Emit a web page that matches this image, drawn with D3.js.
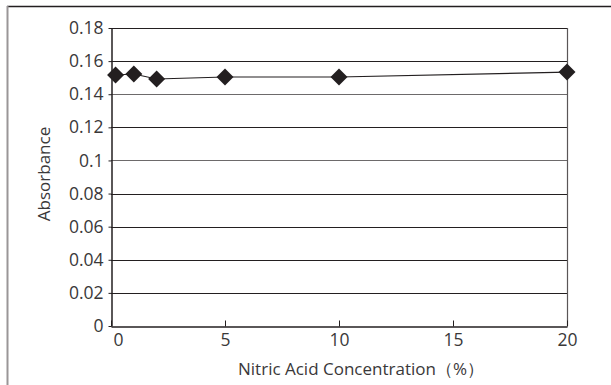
<!DOCTYPE html>
<html><head><meta charset="utf-8">
<script src="https://cdn.jsdelivr.net/npm/d3@7"></script>
<style>body{margin:0;background:#fff;}svg{display:block;}text{font-family:"Open Sans","Noto Sans",sans-serif;font-weight:400;}</style>
</head><body>
<svg id="c" width="611" height="385"></svg>
<script>
const concentration = [0.2, 1, 2, 5, 10, 20];
const absorbance = [0.1516, 0.1522, 0.1492, 0.1504, 0.1504, 0.1534];
const xTicks = [0, 5, 10, 15, 20];
const yTicks = [0, 0.02, 0.04, 0.06, 0.08, 0.1, 0.12, 0.14, 0.16, 0.18];
const xTitle = "Nitric Acid Concentration（%）";
const yTitle = "Absorbance";

const svg = d3.select("#c");
const L = 111, R = 567, T = 28, B = 326;
const x = d3.scaleLinear().domain([0, 20]).range([L, R]);
const y = d3.scaleLinear().domain([0, 0.18]).range([B, T]);
const ink = "#231f20";
const txt = "#3a3839";

// outer frame
svg.append("line").attr("x1", 7).attr("x2", 611).attr("y1", 6.5).attr("y2", 6.5).attr("stroke", ink).attr("stroke-width", 1.5);
svg.append("line").attr("x1", 7.5).attr("x2", 7.5).attr("y1", 6).attr("y2", 385).attr("stroke", "#9a9697").attr("stroke-width", 2);

// gridlines
svg.append("g").selectAll("line").data(yTicks.filter(d => d > 0)).join("line")
  .attr("x1", L).attr("x2", R)
  .attr("y1", d => Math.round(y(d)) + 0.5).attr("y2", d => Math.round(y(d)) + 0.5)
  .attr("stroke", d => (d === 0.1 || d === 0.14) ? "#6d6a6b" : ink).attr("stroke-width", 1);

// right border
svg.append("line").attr("x1", R + 0.5).attr("x2", R + 0.5).attr("y1", T).attr("y2", B).attr("stroke", "#5a5657").attr("stroke-width", 1.2);

// y axis
const yAxis = svg.append("g").attr("transform", `translate(${L + 0.5},0)`)
  .call(d3.axisLeft(y).tickValues(yTicks).tickSize(3).tickSizeOuter(0)
    .tickFormat(d => d === 0 ? "0" : String(+d.toFixed(2))));
yAxis.select(".domain").attr("stroke", ink).attr("stroke-width", 1.5);
yAxis.selectAll(".tick line").attr("stroke", ink);
yAxis.selectAll(".tick text").attr("font-size", 17.5).attr("x", -8).style("fill", txt);

// x axis
const xAxis = svg.append("g").attr("transform", `translate(0,${B + 0.5})`)
  .call(d3.axisBottom(x).tickValues(xTicks).tickSize(-6).tickSizeOuter(0));
xAxis.select(".domain").attr("stroke", ink).attr("stroke-width", 1.5);
xAxis.selectAll(".tick line").attr("stroke", ink);
xAxis.selectAll(".tick text").attr("font-size", 17.5).attr("y", 7).attr("dy", "0.71em").style("fill", txt)
  .attr("dx", d => d === 0 ? 7 : 0);

// line
svg.append("path").datum(concentration.map((c, i) => [c, absorbance[i]]))
  .attr("fill", "none").attr("stroke", ink).attr("stroke-width", 1.2)
  .attr("d", d3.line().x(d => x(d[0])).y(d => y(d[1])));

// diamonds
const s = 8.5;
svg.append("g").selectAll("path").data(concentration.map((c, i) => [c, absorbance[i]])).join("path")
  .attr("d", d => { const cx = x(d[0]), cy = y(d[1]); return `M${cx},${cy - s}L${cx + s},${cy}L${cx},${cy + s}L${cx - s},${cy}Z`; })
  .attr("fill", ink);

// titles
svg.append("text").attr("x", 361).attr("y", 375).attr("text-anchor", "middle").attr("font-size", 17).style("fill", txt).text(xTitle);
svg.append("text").attr("transform", `translate(50,174) rotate(-90)`).attr("text-anchor", "middle").attr("font-size", 17).style("fill", txt).text(yTitle);
</script>
</body></html>
